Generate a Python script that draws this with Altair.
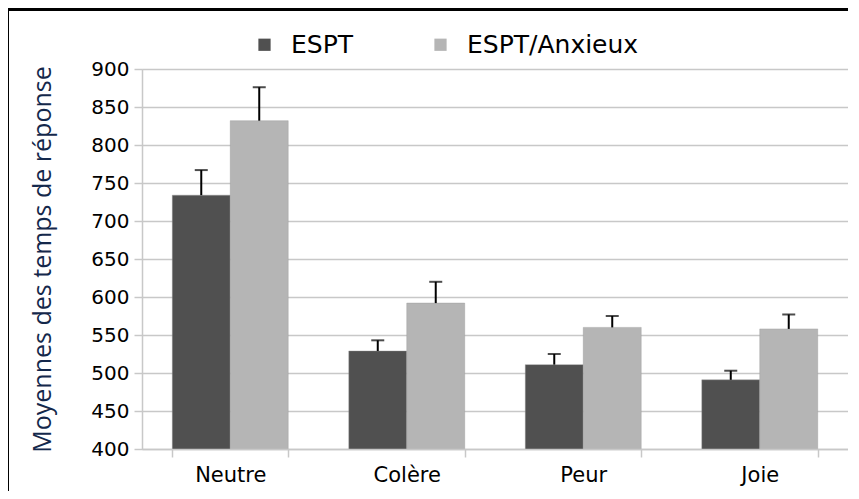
import altair as alt
import pandas as pd

categories = ["Neutre", "Colère", "Peur", "Joie"]
series = ["ESPT", "ESPT/Anxieux"]
espt_means = [734, 529, 511, 491]
espt_err = [33, 14, 14, 12]
anx_means = [832, 592, 560, 558]
anx_err = [44, 28, 15, 19]
y_ticks = [400, 450, 500, 550, 600, 650, 700, 750, 800, 850, 900]
colors = ["#505050", "#b5b5b5"]

rows = []
for i, c in enumerate(categories):
    rows.append({"cat": c, "grp": series[0], "mean": espt_means[i], "top": espt_means[i] + espt_err[i]})
    rows.append({"cat": c, "grp": series[1], "mean": anx_means[i], "top": anx_means[i] + anx_err[i]})
df = pd.DataFrame(rows)

xenc = alt.X("cat:N", sort=categories, title=None,
             scale=alt.Scale(paddingInner=0.343, paddingOuter=0.1715),
             axis=alt.Axis(labelAngle=0, labelFont="DejaVu Sans", labelFontSize=21,
                           labelColor="#000000", labelPadding=7, tickBand="extent",
                           tickSize=8, tickColor="#c8c8c8", domainColor="#c8c8c8",
                           tickWidth=1.5, domainWidth=1.5, grid=False, zindex=1))
yscale = alt.Scale(domain=[400, 900], nice=False, zero=False)
yaxis = alt.Axis(values=y_ticks, title="Moyennes des temps de réponse",
                 titleFont="Open Sans", titleFontSize=25, titleFontWeight="normal",
                 titleColor="#14284b", titleAngle=-90, titleX=-100, titleY=190,
                 titleAlign="center", titleBaseline="middle",
                 labelFont="DejaVu Sans", labelFontSize=20, labelColor="#000000",
                 labelPadding=5, labelOverlap=False, tickSize=8, tickColor="#c8c8c8",
                 tickWidth=1.5, domainColor="#c8c8c8", domainWidth=1.5,
                 gridColor="#c8c8c8", gridWidth=1.5)

color = alt.Color("grp:N", scale=alt.Scale(domain=series, range=colors), title=None,
                  legend=alt.Legend(orient="none", direction="horizontal",
                                    legendX=110, legendY=-37, symbolType="square",
                                    symbolSize=150, symbolStrokeWidth=0,
                                    labelFont="DejaVu Sans", labelFontSize=25,
                                    labelColor="#000000", labelOffset=14,
                                    labelLimit=400, columnPadding=74))

base = alt.Chart(df).encode(x=xenc, xOffset=alt.XOffset("grp:N", sort=series))

bars = base.mark_bar(clip=True, stroke="#999999", strokeWidth=0.8, strokeOpacity=0.5).encode(
    y=alt.Y("mean:Q", scale=yscale, axis=yaxis),
    color=color,
)
rules = base.mark_rule(color="#000000", strokeWidth=2).encode(
    y=alt.Y("mean:Q", scale=yscale, axis=yaxis), y2="top:Q")
caps = base.mark_tick(color="#000000", thickness=2, size=13).encode(
    y=alt.Y("top:Q", scale=yscale, axis=yaxis))

frame_top = alt.Chart(df).mark_rule(color="#000000", strokeWidth=4, clip=False).encode(
    x=alt.value(-138), x2=alt.value(720), y=alt.value(-60))
frame_left = alt.Chart(df).mark_rule(color="#000000", strokeWidth=4, clip=False).encode(
    x=alt.value(-135), y=alt.value(-62), y2=alt.value(440))

chart = alt.layer(bars, rules, caps, frame_top, frame_left).properties(
    width=706, height=380,
    autosize=alt.AutoSizeParams(type="none"),
    padding={"left": 134, "top": 61, "right": 0, "bottom": 42},
).configure_view(stroke="#c8c8c8", strokeWidth=1.5).configure(background="#ffffff")

chart.save("out.html", embed_options={"renderer": "svg", "actions": False})
